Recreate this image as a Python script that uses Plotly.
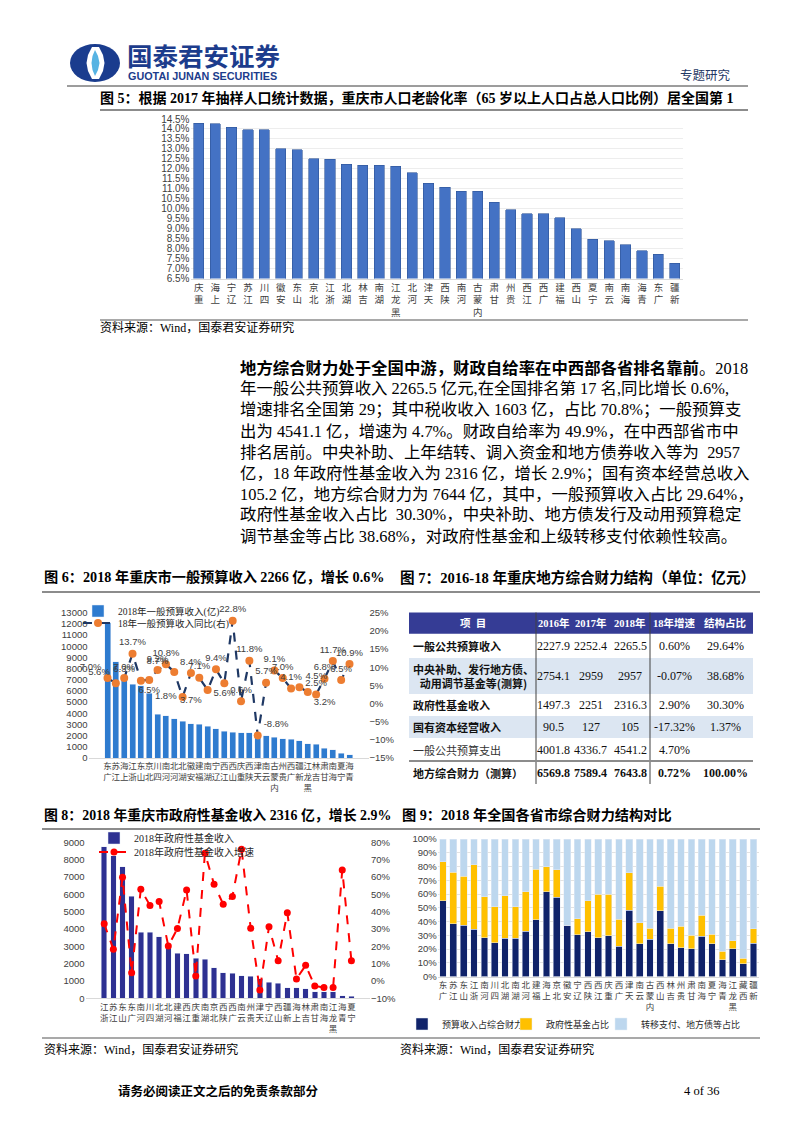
import plotly.graph_objects as go

# ---------------- data ----------------
f5_regions = ["重庆", "上海", "辽宁", "江苏", "四川", "安徽", "山东", "北京", "浙江", "湖北",
              "吉林", "湖南", "黑龙江", "河北", "天津", "陕西", "河南", "内蒙古", "甘肃", "贵州",
              "江西", "广西", "福建", "山西", "宁夏", "云南", "海南", "青海", "广东", "新疆"]
f5_aging = [14.29, 14.26, 14.09, 13.95, 13.95, 13.00, 12.95, 12.50, 12.47, 12.23,
            12.19, 12.18, 12.12, 11.81, 11.28, 11.07, 10.88, 10.87, 10.32, 9.96,
            9.74, 9.74, 9.54, 9.00, 8.46, 8.39, 8.19, 7.89, 7.72, 7.27]

f6_regions = ["广东", "江苏", "上海", "浙江", "山东", "北京", "四川", "河南", "河北", "湖北",
              "安徽", "福建", "湖南", "辽宁", "江西", "山西", "重庆", "陕西", "天津", "云南",
              "内蒙古", "贵州", "广西", "新疆", "黑龙江", "吉林", "甘肃", "海南", "宁夏", "青海"]
f6_revenue = [12105, 8630, 7108, 6598, 6485, 5786, 3911, 3766, 3514, 3307,
              3049, 3007, 2861, 2616, 2373, 2293, 2266, 2243, 2106, 1994,
              1858, 1727, 1681, 1531, 1283, 1241, 871, 752, 436, 273]
f6_growth = [7.0, 5.6, 7.0, 13.7, 6.3, 6.5, 9.2, 10.8, 8.7, 1.8,
             8.4, 7.1, 3.7, 9.4, 5.6, 22.8, 0.6, 11.8, -8.8, 5.7,
             9.1, 7.0, 4.1, 4.5, 3.2, 2.5, 6.8, 11.7, 6.5, 10.9]
f6_label_pos = ["top left", "top left", "top center", "top center", "top left", "bottom center",
                "top center", "top center", "top left", "middle left", "top center", "top center",
                "bottom left", "top center", "bottom center", "top center", "top center", "top center",
                "top right", "top center", "top center", "top center", "top center", "top right",
                "bottom right", "top center", "top center", "top center", "top center", "top center"]

f8_regions = ["浙江", "江苏", "山东", "广东", "河南", "四川", "湖北", "河北", "福建", "江西",
              "重庆", "湖南", "北京", "陕西", "广西", "云南", "贵州", "天津", "辽宁", "山西",
              "新疆", "上海", "吉林", "甘肃", "海南", "黑龙江", "青海", "宁夏"]
f8_fund = [8750, 8210, 7580, 5900, 3800, 3800, 3560, 2980, 2600, 2580,
           2316, 2250, 1750, 1460, 1440, 1290, 1270, 1130, 940, 870,
           620, 600, 540, 380, 380, 370, 150, 130]
f8_growth = [33.0, 18.3, 59.8, 4.8, 52.9, 43.6, 45.8, 20.2, 30.2, 52.5,
             2.9, 73.7, 55.8, 44.2, 48.7, 76.0, 30.4, -5.2, 31.3, 11.7,
             39.4, 1.2, 9.0, -2.9, -3.7, -3.8, 64.0, 11.7]

f9_regions = ["广东", "江苏", "山东", "浙江", "河南", "四川", "湖北", "湖南", "河北", "福建",
              "上海", "北京", "安徽", "辽宁", "陕西", "江西", "重庆", "广西", "天津", "云南",
              "内蒙古", "山西", "吉林", "贵州", "甘肃", "海南", "宁夏", "青海", "黑龙江", "西藏", "新疆"]
f9_budget = [55.1, 38.5, 37.5, 34.3, 28.2, 24.5, 28.0, 28.0, 33.0, 41.4,
             61.8, 57.6, 37.3, 30.4, 32.6, 28.2, 29.6, 22.0, 48.3, 23.8,
             27.0, 47.8, 24.0, 20.8, 20.3, 29.4, 24.0, 12.3, 20.3, 9.3, 24.3]
f9_fund = [28.2, 37.5, 35.5, 47.1, 29.8, 26.2, 30.8, 22.7, 28.8, 36.8,
           17.9, 20.1, 0.0, 11.8, 22.5, 31.8, 30.3, 19.7, 27.2, 15.4,
           8.0, 17.9, 11.0, 15.7, 9.6, 15.2, 6.6, 6.1, 5.9, 3.9, 10.5]
f9_transfer = [16.7, 24.0, 27.0, 18.6, 42.0, 49.3, 41.2, 49.3, 38.2, 21.8,
               20.3, 22.3, 62.7, 57.8, 44.9, 40.0, 40.1, 58.3, 24.5, 60.8,
               65.0, 34.3, 65.0, 63.5, 70.1, 55.4, 69.4, 81.6, 73.8, 86.8, 65.2]

t7_header = ["项  目", "2016年", "2017年", "2018年", "18年增速", "结构占比"]
t7_items = ["一般公共预算收入", "中央补助、发行地方债、<br>动用调节基金等(测算)", "政府性基金收入",
            "国有资本经营收入", "一般公共预算支出", "地方综合财力（测算）"]
t7_item_bold = [True, True, True, True, False, True]
t7_2016 = [2227.9, 2754.1, 1497.3, 90.5, 4001.8, 6569.8]
t7_2017 = [2252.4, 2959, 2251, 127, 4336.7, 7589.4]
t7_2018 = [2265.5, 2957, 2316.3, 105, 4541.2, 7643.8]
t7_growth = [0.60, -0.07, 2.90, -17.32, 4.70, 0.72]
t7_share = [29.64, 38.68, 30.30, 1.37, None, 100.00]

para_lines = [
    "<b>地方综合财力处于全国中游，财政自给率在中西部各省排名靠前</b>。2018",
    "年一般公共预算收入 2265.5 亿元,在全国排名第 17 名,同比增长 0.6%,",
    "增速排名全国第 29；其中税收收入 1603 亿，占比 70.8%；一般预算支",
    "出为 4541.1 亿，增速为 4.7%。财政自给率为 49.9%，在中西部省市中",
    "排名居前。中央补助、上年结转、调入资金和地方债券收入等为  2957",
    "亿，18 年政府性基金收入为 2316 亿，增长 2.9%；国有资本经营总收入",
    "105.2 亿，地方综合财力为 7644 亿，其中，一般预算收入占比 29.64%，",
    "政府性基金收入占比  30.30%，中央补助、地方债发行及动用预算稳定",
    "调节基金等占比 38.68%，对政府性基金和上级转移支付依赖性较高。",
]

# ---------------- helpers ----------------
# the page body keeps its default 8px margin, so the figure is sized to fit the window exactly
OFF = 8
W, H = 802 - 2 * OFF, 1133 - 2 * OFF


def X(p):
    return (p - OFF) / W


def Y(p):
    return 1 - (p - OFF) / H


CJK = "Noto Sans CJK SC"
SERIF = "Liberation Serif, Noto Sans CJK SC"
SANS = "Liberation Sans, Noto Sans CJK SC"


def stack(name):
    return "<br>".join(reversed(name))


fig = go.Figure()

# ---------------- Fig 5 ----------------
fig.add_trace(go.Bar(x=f5_regions, y=f5_aging, width=0.62,
                     marker=dict(color="#4472C4", line=dict(color="#2F5597", width=0.6)),
                     xaxis="x", yaxis="y", showlegend=False))

# ---------------- Fig 6 ----------------
fig.add_trace(go.Bar(x=f6_regions, y=f6_revenue, width=0.72, name="2018年一般预算收入(亿)",
                     marker=dict(color="#2E7BCF"), xaxis="x2", yaxis="y2", legend="legend"))
fig.add_trace(go.Scatter(x=f6_regions, y=f6_growth, name="18年一般预算收入同比(右)",
                         mode="lines+markers+text", cliponaxis=False,
                         text=[f"{v:.1f}%" for v in f6_growth], textposition=f6_label_pos,
                         textfont=dict(family=SANS, size=9.5, color="#404040"),
                         line=dict(color="#1F3864", width=2.2, dash="dash"),
                         marker=dict(color="#ED7D31", size=8),
                         xaxis="x2", yaxis="y3", legend="legend4"))

# ---------------- Fig 8 ----------------
fig.add_trace(go.Bar(x=f8_regions, y=f8_fund, width=0.6, name="2018年政府性基金收入",
                     marker=dict(color="#2E3192"), xaxis="x4", yaxis="y4", legend="legend2"))
fig.add_trace(go.Scatter(x=f8_regions, y=f8_growth, name="2018年政府性基金收入增速",
                         mode="lines+markers",
                         line=dict(color="#FF0000", width=2, dash="dash"),
                         marker=dict(color="#FF0000", size=7),
                         xaxis="x4", yaxis="y5", legend="legend5"))

# ---------------- Fig 9 ----------------
fig.add_trace(go.Bar(x=f9_regions, y=f9_budget, width=0.65, name="预算收入占综合财力比",
                     marker=dict(color="#10236A"), xaxis="x6", yaxis="y6", legend="legend3"))
fig.add_trace(go.Bar(x=f9_regions, y=f9_fund, width=0.65, name="政府性基金占比",
                     marker=dict(color="#FFC000"), xaxis="x6", yaxis="y6", legend="legend6"))
fig.add_trace(go.Bar(x=f9_regions, y=f9_transfer, width=0.65, name="转移支付、地方债等占比",
                     marker=dict(color="#BDD7EE"), xaxis="x6", yaxis="y6", legend="legend7"))

# ---------------- axes ----------------
tickf = dict(family=SANS, size=9.5, color="#404040")
catf = dict(family=CJK, size=8.5, color="#404040")


def leg(x, y, size=10, family=SERIF):
    return dict(x=X(x), y=Y(y), xanchor="left", yanchor="middle", bgcolor="rgba(0,0,0,0)",
                font=dict(family=family, size=size, color="#262626"), tracegroupgap=0,
                itemwidth=30, traceorder="normal")


layout = dict(
    width=W, height=H, autosize=False,
    margin=dict(l=0, r=0, t=0, b=0, autoexpand=False),
    paper_bgcolor="white", plot_bgcolor="white",
    barmode="stack", showlegend=True,
    font=dict(family=CJK, color="#000000"),
    # fig 5
    xaxis=dict(domain=[X(190.5), X(683)], anchor="y", type="category", tickangle=0,
               tickvals=f5_regions, ticktext=[stack(r) for r in f5_regions],
               tickfont=dict(family=CJK, size=9.5, color="#404040"),
               showline=True, linecolor="#D9D9D9", ticks="", showgrid=False),
    yaxis=dict(domain=[Y(278.5), Y(119)], anchor="x", range=[6.5, 14.5], dtick=0.5,
               tickformat=".1f", ticksuffix="%", tickfont=dict(family=SANS, size=10, color="#404040"),
               showgrid=True, gridcolor="#EDEDED", zeroline=False, ticks=""),
    # fig 6
    xaxis2=dict(domain=[X(88.5), X(368.5)], anchor="y2", type="category", tickangle=0,
                tickvals=f6_regions, ticktext=[stack(r) for r in f6_regions],
                tickfont=catf, showline=True, linecolor="#D9D9D9", ticks="", showgrid=False),
    yaxis2=dict(domain=[Y(758), Y(612.7)], anchor="x2", range=[0, 13000], dtick=1000, tickformat="d",
                tickfont=tickf, showgrid=False, zeroline=False, ticks=""),
    yaxis3=dict(overlaying="y2", anchor="x2", side="right", range=[-15, 25], dtick=5,
                ticksuffix="%", tickfont=tickf, showgrid=False, zeroline=False, ticks=""),
    # fig 8
    xaxis4=dict(domain=[X(85.6), X(370)], anchor="y4", type="category", tickangle=0,
                tickvals=f8_regions, ticktext=[stack(r) for r in f8_regions],
                tickfont=catf, showline=True, linecolor="#D9D9D9", ticks="", showgrid=False),
    yaxis4=dict(domain=[Y(998.3), Y(842.3)], anchor="x4", range=[0, 9000], dtick=1000, tickformat="d",
                tickfont=tickf, showgrid=False, zeroline=False, ticks=""),
    yaxis5=dict(overlaying="y4", anchor="x4", side="right", range=[-10, 80], dtick=10,
                ticksuffix="%", tickfont=tickf, showgrid=False, zeroline=False, ticks=""),
    # fig 9
    xaxis6=dict(domain=[X(437.8), X(758.7)], anchor="y6", type="category", tickangle=0,
                tickvals=f9_regions, ticktext=[stack(r) for r in f9_regions],
                tickfont=catf, showline=True, linecolor="#D9D9D9", ticks="", showgrid=False),
    yaxis6=dict(domain=[Y(976.6), Y(839)], anchor="x6", range=[0, 100], dtick=10,
                ticksuffix="%", tickfont=tickf, showgrid=True, gridcolor="#E3E3E3",
                zeroline=False, ticks=""),
    legend=leg(78, 611, size=9.5),
    legend4=leg(78, 623, size=9.5),
    legend2=leg(94, 838),
    legend5=leg(94, 852),
    legend3=leg(402, 1024, size=9, family=CJK),
    legend6=leg(506, 1024, size=9, family=CJK),
    legend7=leg(601, 1024, size=9, family=CJK),
)
fig.update_layout(**layout)

# ---------------- page decorations ----------------
ann = []


def txt(x, y, s, size, color="#000000", family=CJK, xanchor="left", bold=False):
    if bold:
        s = f"<b>{s}</b>"
    ann.append(dict(x=X(x), y=Y(y), xref="paper", yref="paper", text=s, showarrow=False,
                    xanchor=xanchor, yanchor="middle", font=dict(family=family, size=size, color=color)))


shapes = []


def hline(y, x0, x1, color, width):
    shapes.append(dict(type="line", xref="paper", yref="paper", x0=X(x0), x1=X(x1), y0=Y(y), y1=Y(y),
                       line=dict(color=color, width=width)))


def vline(x, y0, y1, color, width):
    shapes.append(dict(type="line", xref="paper", yref="paper", x0=X(x), x1=X(x), y0=Y(y0), y1=Y(y1),
                       line=dict(color=color, width=width)))


def rect(x0, y0, x1, y1, color):
    shapes.append(dict(type="rect", xref="paper", yref="paper", x0=X(x0), x1=X(x1), y0=Y(y1), y1=Y(y0),
                       fillcolor=color, line=dict(width=0), layer="below"))


txt(125, 54, "国泰君安证券", 25.5, color="#1C3C8C", bold=True)
txt(126, 76, "GUOTAI JUNAN SECURITIES", 10.8, color="#1C3C8C", family="Liberation Sans", bold=True)
txt(733, 75, "专题研究", 12.5, color="#1F3864", xanchor="right")
txt(98, 98, "图 5：根据 2017 年抽样人口统计数据，重庆市人口老龄化率（65 岁以上人口占总人口比例）居全国第 1",
    14, family=SERIF, bold=True)
txt(98, 327, "资料来源：Wind，国泰君安证券研究", 12, family=SERIF)
for i, line in enumerate(para_lines):
    txt(238, 368 + i * 21, line, 16.4, family=SERIF)
txt(42, 577, "图 6：2018 年重庆市一般预算收入 2266 亿，增长 0.6%", 14.2, family=SERIF, bold=True)
txt(398, 577, "图 7：2016-18 年重庆地方综合财力结构（单位：亿元）", 14.6, family=SERIF, bold=True)
txt(42, 815, "图 8：2018 年重庆市政府性基金收入 2316 亿，增长 2.9%", 13.9, family=SERIF, bold=True)
txt(400, 815, "图 9：2018 年全国各省市综合财力结构对比", 14.2, family=SERIF, bold=True)
txt(42, 1049, "资料来源：Wind，国泰君安证券研究", 12, family=SERIF)
txt(398, 1049, "资料来源：Wind，国泰君安证券研究", 12, family=SERIF)
txt(116, 1091, "请务必阅读正文之后的免责条款部分", 12.5, family=SERIF, bold=True)
txt(721, 1091, "4 of 36", 12.5, family=SERIF, xanchor="right")

hline(86, 67, 748, "#3A3A3A", 1)
hline(110, 100, 748, "#8C8C8C", 2)
hline(320, 100, 748, "#8C8C8C", 1.5)
hline(592, 42, 760, "#8C8C8C", 2)
hline(829, 42, 760, "#8C8C8C", 2)
hline(1038, 42, 760, "#8C8C8C", 1.5)

# ---------------- Fig 7 table (built from the table arrays) ----------------
col_edges = [409, 536, 571, 610, 650, 698, 753]
row_edges = [612.5, 633.7, 658, 694, 716, 738, 761, 784]
row_fill = ["#FFFFFF", "#DCE6F2", "#FFFFFF", "#DCE6F2", "#FFFFFF", "#FFFFFF"]
rect(col_edges[0], row_edges[0], col_edges[-1], row_edges[1], "#353C95")
for r in range(len(t7_items)):
    if row_fill[r] != "#FFFFFF":
        rect(col_edges[0], row_edges[r + 1], col_edges[-1], row_edges[r + 2], row_fill[r])


def cell(c, r_top, r_bot, s, size, family, color="#111111", bold=False, left=False):
    y = (r_top + r_bot) / 2
    if left:
        txt(col_edges[c] + 2, y, s, size, color=color, family=family, bold=bold)
    else:
        txt((col_edges[c] + col_edges[c + 1]) / 2, y, s, size, color=color, family=family,
            bold=bold, xanchor="center")


for c, h in enumerate(t7_header):
    cell(c, row_edges[0], row_edges[1], h, 10.5, SERIF, color="#FFFFFF", bold=True)


def fnum(v):
    return f"{v:g}"


for r in range(len(t7_items)):
    last = r == len(t7_items) - 1
    top, bot = row_edges[r + 1], row_edges[r + 2]
    cell(0, top, bot, t7_items[r], 11, CJK, color="#111111" if t7_item_bold[r] else "#333333",
         bold=t7_item_bold[r], left=True)
    vals = [fnum(t7_2016[r]), fnum(t7_2017[r]), fnum(t7_2018[r]), f"{t7_growth[r]:.2f}%",
            "" if t7_share[r] is None else f"{t7_share[r]:.2f}%"]
    for c, v in enumerate(vals):
        if v:
            cell(c + 1, top, bot, v, 12, SERIF, bold=last)

vline(col_edges[1], row_edges[0], row_edges[-1], "#404040", 1)
vline(col_edges[4], row_edges[0], row_edges[-1], "#404040", 1)
hline(row_edges[6], col_edges[0], col_edges[-1], "#8C8C8C", 2)


# ---------------- logo ----------------
def pth(points):
    return "M " + " L ".join(f"{X(a)},{Y(b)}" for a, b in points) + " Z"


shapes.append(dict(type="circle", xref="paper", yref="paper", x0=X(70), x1=X(120), y0=Y(82), y1=Y(44),
                   fillcolor="#1A3C8E", line=dict(width=0)))
shapes.append(dict(type="path", xref="paper", yref="paper",
                   path=pth([(92, 47), (88, 55), (86.5, 63), (88, 71), (92, 79), (99, 79), (103, 71),
                             (104.5, 63), (103, 55), (99, 47)]),
                   fillcolor="#FFFFFF", line=dict(width=0)))
shapes.append(dict(type="path", xref="paper", yref="paper",
                   path=pth([(95, 50), (92.5, 56), (91.5, 63), (92.5, 70), (95, 76), (98, 70),
                             (99.5, 63), (98, 56)]),
                   fillcolor="#56B3E3", line=dict(width=0)))

fig.update_layout(annotations=ann, shapes=shapes)
fig.write_html("out.html")
